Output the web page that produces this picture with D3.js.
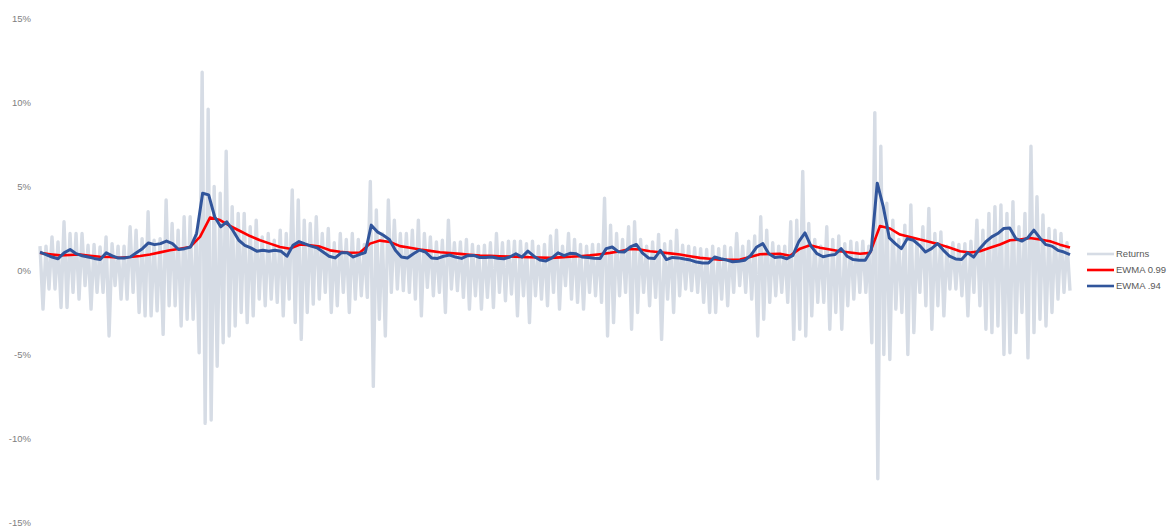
<!DOCTYPE html>
<html>
<head>
<meta charset="utf-8">
<script src="https://cdn.jsdelivr.net/npm/d3@7"></script>
<style>
  body { margin: 0; background: #fff; }
  svg { display: block; font-family: "Liberation Sans", Arial, sans-serif; }
</style>
</head>
<body>
<svg id="chart" width="1167" height="527"></svg>
<script>
// Y axis ticks (percent)
const yTicks = [-15, -10, -5, 0, 5, 10, 15];

// Daily returns, read as the upper and lower envelope of each narrow column (percent)
const returnsHigh = [
  1.45, 1.45, 2.0, 1.7, 2.9, 2.2, 2.2, 2.2, 1.5, 1.55, 1.4, 2.0, 1.6, 1.45, 1.45, 2.6, 2.4, 1.9, 3.5, 1.8,
  1.9, 4.2, 2.8, 2.4, 3.2, 3.2, 2.2, 11.8, 9.6, 5.0, 4.6, 7.1, 3.8, 3.4, 3.4, 2.6, 3.0, 2.0, 2.2, 1.8,
  2.4, 2.2, 4.8, 4.2, 3.0, 2.8, 3.2, 2.2, 2.5, 1.65, 2.2, 1.85, 2.2, 1.85, 1.55, 5.3, 3.6, 2.2, 4.2, 3.0,
  2.2, 2.2, 2.4, 3.0, 2.2, 2.0, 1.7, 1.8, 3.0, 1.65, 1.7, 1.85, 1.55, 1.45, 1.5, 1.65, 2.2, 1.65, 1.75, 1.75,
  1.75, 1.6, 1.75, 1.45, 1.55, 2.05, 2.4, 1.45, 2.2, 1.85, 1.55, 1.45, 1.55, 1.55, 4.3, 2.7, 2.2, 1.85, 2.6, 2.9,
  1.85, 1.45, 1.7, 2.15, 1.6, 1.75, 2.4, 1.5, 1.45, 1.35, 1.3, 1.25, 1.45, 1.3, 1.45, 1.35, 2.2, 1.45, 1.75, 2.05,
  3.2, 2.4, 1.65, 1.45, 1.45, 2.9, 3.0, 5.9, 2.8, 1.85, 1.45, 2.6, 1.85, 2.05, 1.6, 1.75, 1.65, 1.75, 1.45, 9.4,
  7.4, 4.0, 3.0, 1.85, 2.7, 3.9, 1.85, 2.6, 3.7, 2.2, 2.3, 1.45, 1.65, 1.55, 1.6, 1.75, 3.0, 2.4, 3.4, 3.8,
  3.9, 3.4, 4.1, 2.6, 3.4, 7.4, 4.4, 3.3, 2.5, 2.4, 2.2, 1.65
];
const returnsLow = [
  -2.3, -1.1, -1.1, -2.2, -2.2, -1.3, -1.7, -0.9, -2.3, -1.3, -1.3, -3.9, -0.9, -1.7, -1.7, -1.3, -2.5, -2.7, -2.7, -2.4,
  -3.8, -2.1, -2.1, -3.3, -2.9, -2.9, -4.9, -9.1, -8.9, -5.7, -4.3, -3.9, -3.3, -2.5, -3.1, -2.7, -1.7, -2.1, -1.7, -1.9,
  -2.7, -1.7, -3.1, -4.1, -2.5, -2.0, -1.7, -1.3, -2.5, -2.1, -1.3, -2.5, -1.7, -1.5, -1.6, -6.9, -2.9, -3.9, -1.3, -1.1,
  -1.2, -1.3, -1.7, -2.7, -1.0, -1.5, -1.3, -2.5, -1.1, -1.2, -1.6, -2.3, -1.5, -2.3, -1.6, -2.2, -1.3, -1.8, -1.4, -2.7,
  -1.5, -3.1, -1.5, -1.7, -2.1, -1.3, -2.3, -0.9, -1.7, -1.9, -2.3, -1.3, -1.5, -1.9, -3.9, -3.1, -1.5, -1.3, -3.5, -2.5,
  -1.3, -2.1, -1.6, -4.1, -1.7, -2.5, -1.5, -1.1, -1.2, -1.3, -1.9, -2.5, -2.5, -1.7, -2.1, -1.3, -0.9, -1.3, -1.7, -3.9,
  -2.9, -1.9, -1.5, -1.3, -1.9, -4.1, -3.5, -3.9, -2.7, -1.9, -1.9, -3.5, -2.5, -3.5, -2.1, -1.7, -1.3, -1.3, -4.3, -12.4,
  -5.0, -5.3, -2.3, -2.5, -5.0, -3.7, -1.3, -2.1, -3.5, -2.1, -2.7, -1.1, -1.1, -1.5, -2.7, -1.3, -2.1, -3.5, -3.7, -3.3,
  -5.0, -4.9, -3.7, -2.5, -5.2, -3.7, -2.9, -3.3, -2.5, -1.7, -1.3, -1.2
];

// EWMA volatility, lambda .94 (percent)
const ewma94 = [
  1.09, 0.95, 0.80, 0.70, 1.05, 1.25, 1.0, 0.88, 0.80, 0.72, 0.66, 1.05, 0.87, 0.74, 0.75, 0.81, 1.05, 1.3, 1.64, 1.54,
  1.6, 1.75, 1.6, 1.25, 1.3, 1.4, 2.2, 4.6, 4.5, 3.2, 2.6, 2.9, 2.4, 1.8, 1.5, 1.35, 1.15, 1.2, 1.15, 1.2,
  1.15, 0.85, 1.5, 1.72, 1.58, 1.45, 1.35, 1.1, 0.85, 0.75, 1.05, 1.05, 0.81, 0.95, 1.07, 2.7, 2.3, 2.1, 1.85, 1.2,
  0.8, 0.75, 1.0, 1.22, 1.1, 0.75, 0.72, 0.85, 0.92, 0.8, 0.72, 0.88, 0.9, 0.77, 0.78, 0.8, 0.73, 0.7, 0.8, 1.0,
  0.8, 1.15, 0.85, 0.62, 0.57, 0.75, 1.05, 0.88, 1.02, 1.0, 0.8, 0.77, 0.73, 0.72, 1.3, 1.4, 1.12, 1.1, 1.4, 1.55,
  1.05, 0.75, 0.71, 1.2, 0.65, 0.78, 0.75, 0.68, 0.62, 0.5, 0.45, 0.45, 0.8, 0.7, 0.62, 0.52, 0.55, 0.61, 0.9, 1.4,
  1.6, 1.0, 0.78, 0.82, 0.7, 0.9, 1.74, 2.24, 1.45, 1.0, 0.82, 0.9, 0.95, 1.3, 0.85, 0.65, 0.61, 0.61, 1.2, 5.2,
  3.8, 1.94, 1.6, 1.3, 1.9, 1.8, 1.5, 1.1, 1.3, 1.6, 1.2, 0.85, 0.69, 0.66, 1.05, 0.8, 1.3, 1.7, 2.0, 2.2,
  2.5, 2.53, 1.9, 1.75, 1.95, 2.4, 1.94, 1.54, 1.45, 1.2, 1.1, 0.95
];

// EWMA volatility, lambda 0.99 (percent)
const ewma99 = [
  1.05, 0.97, 0.9, 0.92, 0.95, 0.88, 0.82, 0.8, 0.76, 0.8, 0.86, 0.95, 1.08, 1.2, 1.3, 1.4, 2.0, 3.15, 3.0, 2.65,
  2.35, 2.05, 1.8, 1.6, 1.4, 1.3, 1.55, 1.5, 1.42, 1.2, 1.12, 1.06, 1.07, 1.6, 1.78, 1.7, 1.45, 1.35, 1.25, 1.17,
  1.09, 1.04, 0.99, 0.94, 0.89, 0.87, 0.85, 0.83, 0.81, 0.79, 0.77, 0.75, 0.78, 0.82, 0.85, 0.9, 0.97, 1.05, 1.15, 1.28,
  1.25, 1.15, 1.09, 1.02, 0.95, 0.85, 0.75, 0.7, 0.65, 0.64, 0.65, 0.8, 0.97, 0.98, 1.0, 0.88, 1.3, 1.5, 1.35, 1.25,
  1.15, 1.07, 1.0, 1.05, 2.65, 2.5, 2.14, 2.0, 1.84, 1.7, 1.54, 1.35, 1.15, 1.07, 1.15, 1.35, 1.55, 1.8, 1.84, 1.94,
  1.84, 1.74, 1.54, 1.37
];

const legendItems = [
  { name: "Returns", color: "#d6dce5" },
  { name: "EWMA 0.99", color: "#ff0000" },
  { name: "EWMA .94", color: "#31559b" }
];

const svg = d3.select("#chart");

// x runs over the sample period as a fraction of its length
const x = d3.scaleLinear().domain([0, 1]).range([40, 1070]);
const y = d3.scaleLinear().domain([-15, 15]).range([522.5, 18.5]);

// y axis: labels only
const yAxis = d3.axisLeft(y)
  .tickValues(yTicks)
  .tickSize(0)
  .tickPadding(9)
  .tickFormat(d => d + "%");

const gY = svg.append("g")
  .attr("transform", "translate(40,0)")
  .call(yAxis);
gY.select(".domain").remove();
gY.selectAll("text")
  .attr("fill", "#808080")
  .style("font-size", "9.5px");

// returns: alternate between each column's high and low
const returnsSeq = [];
returnsHigh.forEach((h, i) => {
  returnsSeq.push(h);
  returnsSeq.push(returnsLow[i]);
});

const line = n => d3.line()
  .x((d, i) => x(i / (n - 1)))
  .y(d => y(d));

svg.append("path")
  .datum(returnsSeq)
  .attr("fill", "none")
  .attr("stroke", "#d6dce5")
  .attr("stroke-width", 3.4)
  .attr("stroke-linejoin", "round")
  .attr("d", line(returnsSeq.length));

svg.append("path")
  .datum(ewma99)
  .attr("fill", "none")
  .attr("stroke", "#ff0000")
  .attr("stroke-width", 2.6)
  .attr("stroke-linejoin", "round")
  .attr("d", line(ewma99.length));

svg.append("path")
  .datum(ewma94)
  .attr("fill", "none")
  .attr("stroke", "#31559b")
  .attr("stroke-width", 3)
  .attr("stroke-linejoin", "round")
  .attr("d", line(ewma94.length));

// legend
const legend = svg.append("g").attr("transform", "translate(1087,254)");
const rows = legend.selectAll("g")
  .data(legendItems)
  .join("g")
  .attr("transform", (d, i) => `translate(0,${i * 16})`);
rows.append("line")
  .attr("x1", 0).attr("x2", 27)
  .attr("stroke", d => d.color)
  .attr("stroke-width", 2.6);
rows.append("text")
  .attr("x", 29)
  .attr("dy", "0.35em")
  .attr("fill", "#595959")
  .style("font-size", "9.5px")
  .text(d => d.name);
</script>
</body>
</html>
